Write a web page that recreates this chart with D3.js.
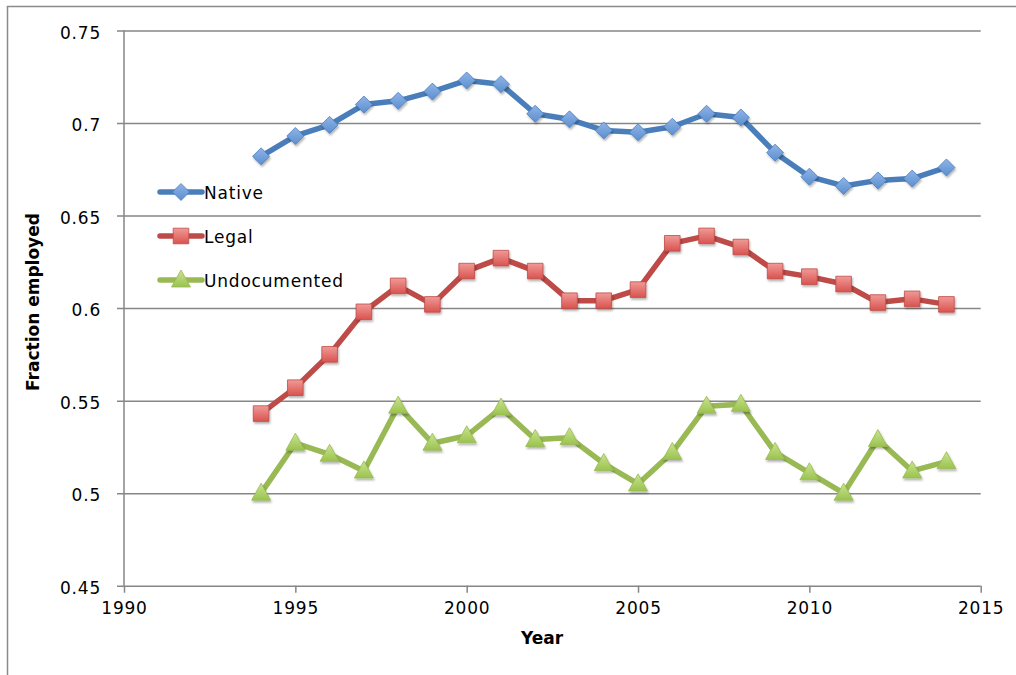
<!DOCTYPE html>
<html>
<head>
<meta charset="utf-8">
<script src="https://cdn.jsdelivr.net/npm/d3@7"></script>
<style>
  body { margin: 0; background: #fff; }
  svg text { font-family: "DejaVu Sans", sans-serif; fill: #000; }
</style>
</head>
<body>
<svg id="chart" width="1016" height="675"></svg>
<script>
// data
const years = [1994, 1995, 1996, 1997, 1998, 1999, 2000, 2001, 2002, 2003, 2004,
               2005, 2006, 2007, 2008, 2009, 2010, 2011, 2012, 2013, 2014];
const native = [0.682, 0.693, 0.699, 0.710, 0.712, 0.717, 0.723, 0.721, 0.705, 0.702, 0.696,
                0.695, 0.698, 0.705, 0.703, 0.684, 0.671, 0.666, 0.669, 0.670, 0.676];
const legal = [0.543, 0.557, 0.575, 0.598, 0.612, 0.602, 0.620, 0.627, 0.620, 0.604, 0.604,
               0.610, 0.635, 0.639, 0.633, 0.620, 0.617, 0.613, 0.603, 0.605, 0.602];
const undocumented = [0.500, 0.527, 0.521, 0.512, 0.547, 0.527, 0.531, 0.546, 0.529, 0.530, 0.516,
                      0.505, 0.522, 0.547, 0.548, 0.522, 0.511, 0.500, 0.529, 0.512, 0.517];
const seriesNames = ["Native", "Legal", "Undocumented"];
const xTicks = [1990, 1995, 2000, 2005, 2010, 2015];
const yTicks = [0.45, 0.5, 0.55, 0.6, 0.65, 0.7, 0.75];

const series = [
  { name: seriesNames[0], values: native, line: "#4a7ebb", fill: "#5b8fd0", light: "#8fb4e6", shape: "diamond" },
  { name: seriesNames[1], values: legal, line: "#be4b48", fill: "#d9534f", light: "#f09a97", shape: "square" },
  { name: seriesNames[2], values: undocumented, line: "#98b954", fill: "#9bc24f", light: "#c9e58f", shape: "triangle" }
];

const svg = d3.select("#chart");
const plotLeft = 124, plotRight = 980.7, plotTop = 30.5, plotBottom = 585.7;

const x = d3.scaleLinear().domain([1990, 2015]).range([plotLeft, plotRight]);
const y = d3.scaleLinear().domain([0.45, 0.75]).range([plotBottom, plotTop]);

// outer frame of the chart
svg.append("rect")
  .attr("x", 7.5).attr("y", 6.5)
  .attr("width", 1100).attr("height", 700)
  .attr("fill", "none").attr("stroke", "#8a8a8a").attr("stroke-width", 1.5);

const defs = svg.append("defs");
series.forEach((s, i) => {
  const g = defs.append("linearGradient").attr("id", "grad" + i)
    .attr("x1", 0).attr("y1", 0).attr("x2", 0).attr("y2", 1);
  g.append("stop").attr("offset", "0%").attr("stop-color", s.light);
  g.append("stop").attr("offset", "100%").attr("stop-color", s.fill);
});
const shadow = defs.append("filter").attr("id", "shadow")
  .attr("x", "-30%").attr("y", "-30%").attr("width", "160%").attr("height", "160%");
shadow.append("feDropShadow").attr("dx", 1).attr("dy", 2).attr("stdDeviation", 1.2)
  .attr("flood-color", "#000").attr("flood-opacity", 0.3);

// gridlines + y axis
const yAxis = d3.axisLeft(y).tickValues(yTicks).tickSize(plotRight - plotLeft + 7)
  .tickFormat(d3.format("~g")).tickPadding(16);
const gy = svg.append("g").attr("transform", `translate(${plotRight},0)`).call(yAxis);
gy.select(".domain").remove();
gy.selectAll(".tick line").attr("stroke", "#868686").attr("stroke-width", 1.5);
gy.selectAll(".tick text")
  .attr("font-size", 17).attr("letter-spacing", 0.8).attr("dy", "0.45em");

svg.append("line")
  .attr("x1", plotLeft).attr("x2", plotLeft).attr("y1", plotTop).attr("y2", plotBottom)
  .attr("stroke", "#868686").attr("stroke-width", 1.5);

// x axis
const xAxis = d3.axisBottom(x).tickValues(xTicks).tickSize(7)
  .tickFormat(d3.format("d")).tickPadding(9);
const gx = svg.append("g").attr("transform", `translate(0,${plotBottom})`).call(xAxis);
gx.select(".domain").remove();
gx.selectAll(".tick line").attr("stroke", "#868686").attr("stroke-width", 1.5);
gx.selectAll(".tick text").attr("font-size", 17).attr("letter-spacing", 0.8);

// axis titles
svg.append("text")
  .attr("x", 542).attr("y", 644)
  .attr("text-anchor", "middle")
  .attr("font-size", 17).attr("font-weight", "bold")
  .text("Year");

svg.append("text")
  .attr("transform", "translate(39,302) rotate(-90)")
  .attr("text-anchor", "middle")
  .attr("font-size", 17).attr("font-weight", "bold")
  .text("Fraction employed");

function markerPath(shape) {
  if (shape === "diamond") return "M0,-8.5L8.5,0L0,8.5L-8.5,0Z";
  if (shape === "square") return "M-7.8,-7.8h15.6v15.6h-15.6Z";
  return "M0,-10L9.5,7L-9.5,7Z";
}

const line = d3.line().x(d => x(d[0])).y(d => y(d[1]));

series.forEach((s, i) => {
  const pts = years.map((yr, k) => [yr, s.values[k]]);
  svg.append("path")
    .datum(pts)
    .attr("d", line)
    .attr("fill", "none")
    .attr("stroke", s.line)
    .attr("stroke-width", 5.5)
    .attr("stroke-linejoin", "round");

  svg.append("g").selectAll("path")
    .data(pts)
    .join("path")
    .attr("transform", d => `translate(${x(d[0])},${y(d[1])})`)
    .attr("d", markerPath(s.shape))
    .attr("fill", `url(#grad${i})`)
    .attr("stroke", s.line)
    .attr("stroke-width", 0.8)
    .attr("filter", "url(#shadow)");
});

// legend
const legend = svg.append("g");
series.forEach((s, i) => {
  const ly = 192 + i * 44;
  legend.append("line")
    .attr("x1", 160).attr("x2", 202).attr("y1", ly).attr("y2", ly)
    .attr("stroke", s.line).attr("stroke-width", 5.5).attr("stroke-linecap", "round");
  legend.append("path")
    .attr("transform", `translate(181,${ly})`)
    .attr("d", markerPath(s.shape))
    .attr("fill", `url(#grad${i})`)
    .attr("stroke", s.line).attr("stroke-width", 0.8);
  legend.append("text")
    .attr("x", 204).attr("y", ly + 6.5)
    .attr("font-size", 17).attr("letter-spacing", 0.8)
    .text(s.name);
});
</script>
</body>
</html>
